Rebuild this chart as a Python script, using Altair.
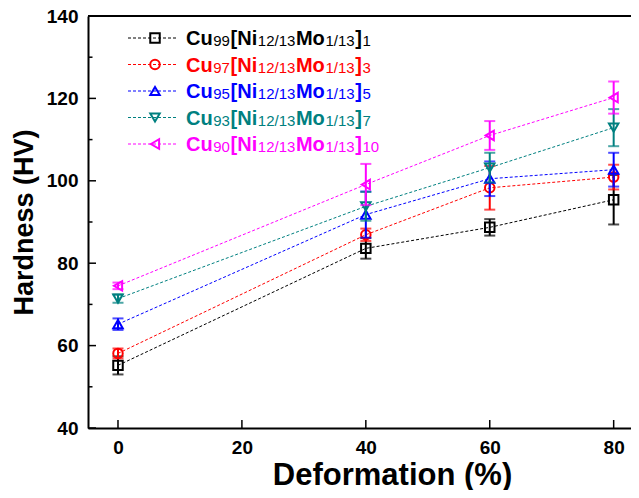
import altair as alt
import pandas as pd

# ---------------- data ----------------
deformation = [0, 40, 60, 80]
series_sub1 = ["99", "97", "95", "93", "90"]
series_sub2 = ["1", "3", "5", "7", "10"]
series_labels = [f"Cu{a}[Ni12/13Mo1/13]{b}" for a, b in zip(series_sub1, series_sub2)]
hardness = [
    [55.2, 83.6, 88.7, 95.4],
    [58.1, 86.9, 98.3, 100.9],
    [65.2, 91.8, 100.5, 102.7],
    [71.4, 93.8, 103.2, 112.9],
    [74.5, 99.1, 111.0, 120.2],
]
errors = [
    [2.2, 2.5, 2.0, 6.0],
    [1.2, 1.5, 5.3, 3.0],
    [1.4, 5.6, 4.2, 4.1],
    [1.0, 3.5, 3.6, 4.5],
    [0.8, 5.0, 3.5, 3.9],
]
colors = ["#000000", "#FF0000", "#0000FF", "#008080", "#FF00FF"]
shapes = ["square", "circle", "triangle-up", "triangle-down", "triangle-left"]
x_ticks = [0, 20, 40, 60, 80]
y_ticks = [40, 60, 80, 100, 120, 140]
y_minor = [50, 70, 90, 110, 130]

# ---------------- layout ----------------
FONT = "Liberation Sans"
W, H = 543, 412
PX_PER_UNIT = 6.196
XLO = -4.84
XHI = XLO + W / PX_PER_UNIT
YLO, YHI = 40, 140

xs = alt.Scale(domain=[XLO, XHI], nice=False, zero=False)
ys = alt.Scale(domain=[YLO, YHI], nice=False, zero=False)


def px_to_x(px):
    return XLO + px / W * (XHI - XLO)


def py_to_y(py):
    return YHI - py / H * (YHI - YLO)


xaxis = alt.Axis(values=x_ticks, ticks=False, grid=False, domainColor="black",
                 domainWidth=2, labelFont=FONT, labelFontSize=19, labelFontWeight="bold",
                 labelColor="black", labelPadding=10, title="Deformation (%)",
                 titleFont=FONT, titleFontSize=31, titleFontWeight="bold", titleColor="black",
                 titleX=304, titleY=56, titleBaseline="alphabetic", titleAlign="center")
yaxis = alt.Axis(values=y_ticks, ticks=False, grid=False, domainColor="black",
                 domainWidth=2, labelFont=FONT, labelFontSize=19, labelFontWeight="bold",
                 labelColor="black", labelPadding=10, title="Hardness (HV)",
                 titleFont=FONT, titleFontSize=27, titleFontWeight="bold", titleColor="black",
                 titleX=-56, titleY=206, titleBaseline="alphabetic", titleAlign="center",
                 titleAngle=270)

layers = []

# frame top line
layers.append(alt.Chart(pd.DataFrame({"a": [0]})).mark_rule(color="black", strokeWidth=2).encode(
    x=alt.value(0), x2=alt.value(W + 10), y=alt.value(0)))

# inward ticks
layers.append(alt.Chart(pd.DataFrame({"v": x_ticks})).mark_rule(color="black", strokeWidth=1.5).encode(
    x=alt.X("v:Q", scale=xs, axis=xaxis), y=alt.value(H), y2=alt.value(H - 8)))
layers.append(alt.Chart(pd.DataFrame({"v": y_ticks})).mark_rule(color="black", strokeWidth=1.5).encode(
    y=alt.Y("v:Q", scale=ys, axis=yaxis), x=alt.value(0), x2=alt.value(8)))
layers.append(alt.Chart(pd.DataFrame({"v": y_minor})).mark_rule(color="black", strokeWidth=1.5).encode(
    y=alt.Y("v:Q", scale=ys), x=alt.value(0), x2=alt.value(4.5)))

# series
for i in range(5):
    df = pd.DataFrame({"x": deformation, "y": hardness[i], "e": errors[i]})
    df["lo"] = df["y"] - df["e"]
    df["hi"] = df["y"] + df["e"]
    base = alt.Chart(df)
    layers.append(base.mark_line(color=colors[i], strokeWidth=1, strokeDash=[3, 2]).encode(
        x=alt.X("x:Q", scale=xs), y=alt.Y("y:Q", scale=ys)))
    layers.append(base.mark_rule(color=colors[i], strokeWidth=2).encode(
        x=alt.X("x:Q", scale=xs), y=alt.Y("lo:Q", scale=ys), y2="hi:Q"))
    for col in ["lo", "hi"]:
        layers.append(base.mark_tick(color=colors[i], orient="horizontal", size=11, thickness=2).encode(
            x=alt.X("x:Q", scale=xs), y=alt.Y(f"{col}:Q", scale=ys)))
    layers.append(base.mark_point(shape=shapes[i], color=colors[i], filled=False, strokeWidth=2,
                                  size=90, opacity=1).encode(
        x=alt.X("x:Q", scale=xs), y=alt.Y("y:Q", scale=ys)))

# ---------------- legend ----------------
BOLD_W = {"C": 722, "u": 611, "[": 333, "N": 722, "i": 278, "M": 833, "o": 611, "]": 333}
REG_W = {"/": 278}
BIG, SMALL = 20, 15


def text_w(s, bold, fs):
    tot = 0
    for ch in s:
        if bold:
            tot += BOLD_W.get(ch, 556)
        else:
            tot += REG_W.get(ch, 556)
    return tot / 1000 * fs


row_cy = [22, 48.5, 75, 101.5, 128]
for i in range(5):
    cy = row_cy[i]
    ldf = pd.DataFrame({"x": [px_to_x(40)], "x2": [px_to_x(90)], "y": [py_to_y(cy)],
                        "mx": [px_to_x(67)]})
    lb = alt.Chart(ldf)
    layers.append(lb.mark_rule(color=colors[i], strokeWidth=1, strokeDash=[3, 2]).encode(
        x=alt.X("x:Q", scale=xs), x2="x2:Q", y=alt.Y("y:Q", scale=ys)))
    layers.append(lb.mark_point(shape=shapes[i], color=colors[i], filled=False, strokeWidth=2,
                                size=90, opacity=1).encode(
        x=alt.X("mx:Q", scale=xs), y=alt.Y("y:Q", scale=ys)))
    segs = [("Cu", True), (series_sub1[i], False), ("[Ni", True), ("12/13", False),
            ("Mo", True), ("1/13", False), ("]", True), (series_sub2[i], False)]
    px = 98
    rows = []
    for s, b in segs:
        fs = BIG if b else SMALL
        rows.append({"t": s, "x": px_to_x(px), "y": py_to_y(cy + 7 + (0 if b else 1)),
                     "w": "bold" if b else "normal", "fs": fs})
        px += text_w(s, b, fs) + 0.6
    tdf = pd.DataFrame(rows)
    for b in [True, False]:
        sub = tdf[tdf["w"] == ("bold" if b else "normal")]
        layers.append(alt.Chart(sub).mark_text(
            align="left", baseline="alphabetic", font=FONT,
            fontWeight="bold" if b else "normal", fontSize=BIG if b else SMALL,
            color=colors[i]).encode(
            x=alt.X("x:Q", scale=xs), y=alt.Y("y:Q", scale=ys), text="t:N"))

chart = alt.layer(*layers).properties(
    width=W, height=H,
    autosize=alt.AutoSizeParams(type="none"),
    padding={"left": 80, "top": 8, "right": 0, "bottom": 62},
).configure_view(stroke=None).configure(background="white")

chart.save("out.html", embed_options={"renderer": "svg", "actions": False})
